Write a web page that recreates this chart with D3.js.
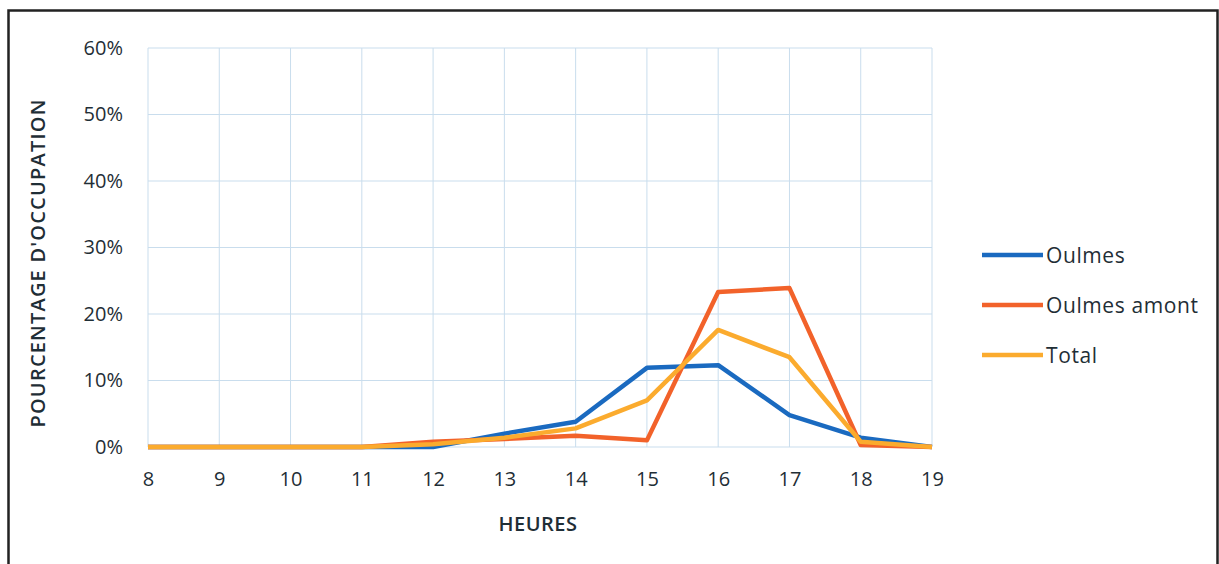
<!DOCTYPE html>
<html><head><meta charset="utf-8">
<script src="https://cdn.jsdelivr.net/npm/d3@7"></script>
<style>body{margin:0;background:#fff;} svg{display:block;}</style>
</head><body>
<script>
const hours = [8,9,10,11,12,13,14,15,16,17,18,19];
const oulmes = [0,0,0,0,0,2.0,3.8,11.9,12.3,4.8,1.4,0];
const oulmesAmont = [0,0,0,0,0.8,1.2,1.7,1.0,23.3,23.9,0.3,0];
const total = [0,0,0,0,0.4,1.4,2.8,7.0,17.6,13.5,0.8,0];
const seriesNames = ["Oulmes","Oulmes amont","Total"];
const seriesColors = ["#1a6ac0","#f2622a","#fbab2e"];
const yTicks = [0,10,20,30,40,50,60];

const W=1219,H=564;
const svg=d3.select("body").append("svg").attr("width",W).attr("height",H);
svg.append("rect").attr("x",8.5).attr("y",10.5).attr("width",1209).attr("height",560)
  .attr("fill","none").attr("stroke","#222").attr("stroke-width",2.5);

const x=d3.scaleLinear().domain([8,19]).range([148,932]);
const y=d3.scaleLinear().domain([0,60]).range([447,48]);
const grid="#c9dded";
const g=svg.append("g");
g.selectAll("line.v").data(hours).join("line")
  .attr("x1",d=>x(d)).attr("x2",d=>x(d)).attr("y1",y(60)).attr("y2",y(0))
  .attr("stroke",grid).attr("stroke-width",1);
g.selectAll("line.h").data(yTicks).join("line")
  .attr("x1",x(8)).attr("x2",x(19)).attr("y1",d=>y(d)).attr("y2",d=>y(d))
  .attr("stroke",grid).attr("stroke-width",1);

const font="'Open Sans', sans-serif";
const tc="#1f2e36";
const xAxis=svg.append("g").attr("transform",`translate(0,${y(0)})`)
  .call(d3.axisBottom(x).tickValues(hours).tickSize(0).tickPadding(25).tickFormat(d3.format("d")));
xAxis.select(".domain").remove();
xAxis.selectAll("text").attr("font-family",font).attr("font-size",20).attr("fill",tc);
const yAxis=svg.append("g").attr("transform",`translate(${x(8)},0)`)
  .call(d3.axisLeft(y).tickValues(yTicks).tickSize(0).tickPadding(25).tickFormat(d=>d+"%"));
yAxis.select(".domain").remove();
yAxis.selectAll("text").attr("font-family",font).attr("font-size",20).attr("fill",tc);

svg.append("text").attr("x",538).attr("y",531).attr("text-anchor","middle")
  .attr("font-family",font).attr("font-size",20).attr("font-weight",600).attr("letter-spacing",0.5).attr("fill",tc).text("HEURES");
svg.append("text").attr("transform","translate(45,263) rotate(-90)").attr("text-anchor","middle")
  .attr("font-family",font).attr("font-size",20).attr("font-weight",600).attr("letter-spacing",1.2).attr("fill",tc).text("POURCENTAGE D'OCCUPATION");

const data=[oulmes,oulmesAmont,total];
const line=d3.line().x((d,i)=>x(hours[i])).y(d=>y(d));
[0,1,2].forEach(k=>{
  svg.append("path").datum(data[k]).attr("d",line).attr("fill","none")
    .attr("stroke",seriesColors[k]).attr("stroke-width",4.5).attr("stroke-linejoin","round");
});
const lg=svg.append("g");
seriesNames.forEach((n,i)=>{
  const yy=255+i*50;
  lg.append("line").attr("x1",982).attr("x2",1043).attr("y1",yy).attr("y2",yy)
    .attr("stroke",seriesColors[i]).attr("stroke-width",4.5);
  lg.append("text").attr("x",1046).attr("y",yy+8).attr("font-family",font).attr("font-size",21)
    .attr("letter-spacing",0.6).attr("fill",tc).text(n);
});
</script>
</body></html>
